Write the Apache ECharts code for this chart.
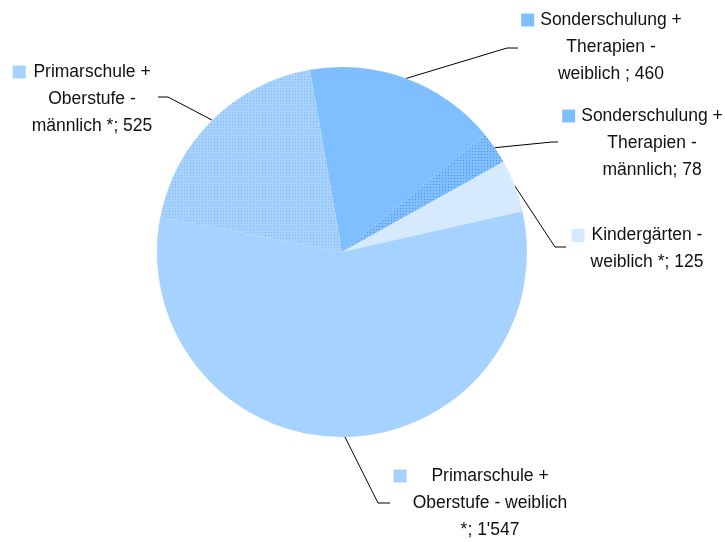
<!DOCTYPE html>
<html>
<head>
<meta charset="utf-8">
<title>Pie</title>
<script src="https://cdn.jsdelivr.net/npm/echarts@6/dist/echarts.min.js"></script>
<style>
  html, body { margin: 0; padding: 0; background: #fff; }
  #main { width: 725px; height: 542px; }
</style>
</head>
<body>
<div id="main"></div>
<script>
// data, clockwise from the top
var names = [
  'Sonderschulung +\nTherapien -\nweiblich ',
  'Sonderschulung +\nTherapien -\nmännlich',
  'Kindergärten -\nweiblich *',
  'Primarschule +\nOberstufe - weiblich\n*',
  'Primarschule +\nOberstufe -\nmännlich *'
]
var values = [460, 78, 125, 1547, 525]
var baseColors = ['#80BFFF', '#80BFFF', '#D6EAFF', '#A6D2FF', '#A6D2FF']
var dotColors = [null, '#4F92DC', null, null, '#86B4E4']

// text centres of the label blocks and line bends
var labelPos = [[611, 47], [652, 143], [647, 249], [490, 503], [92, 99]]
var lineBend = [[507, 48], [552, 142], [555, 247], [378, 503], [168, 97]]
var lineEnd = [[518, 48], [558, 142], [566, 247], [390, 503], [158, 97]]
var keyWidth = 19 // square 13 + gap 6

function dotted(base, dot) {
  var c = document.createElement('canvas')
  c.width = 3
  c.height = 3
  var ctx = c.getContext('2d')
  ctx.fillStyle = base
  ctx.fillRect(0, 0, 3, 3)
  ctx.fillStyle = dot
  ctx.fillRect(1, 1, 1, 1)
  return c
}

function fmt(v) {
  return String(v).replace(/\B(?=(\d{3})+(?!\d))/g, "'")
}

var rich = {
  t: { fontSize: 17.5, lineHeight: 27, color: '#111', align: 'center' },
  g: { width: 6, align: 'left' },
  blank: { width: keyWidth, align: 'left' }
}
var seriesData = []
for (var i = 0; i < values.length; i++) {
  rich['sq' + i] = { width: 13, height: 13, backgroundColor: baseColors[i], align: 'left' }
  var col = dotColors[i] ? { image: dotted(baseColors[i], dotColors[i]), repeat: 'repeat' } : baseColors[i]
  seriesData.push({
    name: names[i],
    value: values[i],
    itemStyle: { color: col }
  })
}

var myChart = echarts.init(document.getElementById('main'))
var option = {
  animation: false,
  backgroundColor: '#fff',
  textStyle: { fontFamily: "'Liberation Sans', Arial, sans-serif" },
  series: [{
    type: 'pie',
    center: [342, 252],
    radius: 185,
    startAngle: 100,
    clockwise: true,
    data: seriesData,
    itemStyle: { borderWidth: 0 },
    label: {
      show: true,
      position: 'outside',
      align: 'center',
      formatter: function (p) {
        var lines = p.name.split('\n')
        lines[lines.length - 1] += '; ' + fmt(p.value)
        var out = []
        for (var k = 0; k < lines.length; k++) {
          var lead = k === 0 ? '{sq' + p.dataIndex + '|}{g|}' : '{blank|}'
          out.push(lead + '{t|' + lines[k] + '}')
        }
        return out.join('\n')
      },
      rich: rich
    },
    labelLine: {
      show: true,
      lineStyle: { color: '#000', width: 1 }
    },
    labelLayout: function (p) {
      var i = p.dataIndex
      var start = p.labelLinePoints ? p.labelLinePoints[0] : lineBend[i]
      return {
        x: labelPos[i][0] - keyWidth / 2,
        y: labelPos[i][1],
        align: 'center',
        verticalAlign: 'middle',
        labelLinePoints: [start, lineBend[i], lineEnd[i]]
      }
    }
  }]
}
myChart.setOption(option)
</script>
</body>
</html>
